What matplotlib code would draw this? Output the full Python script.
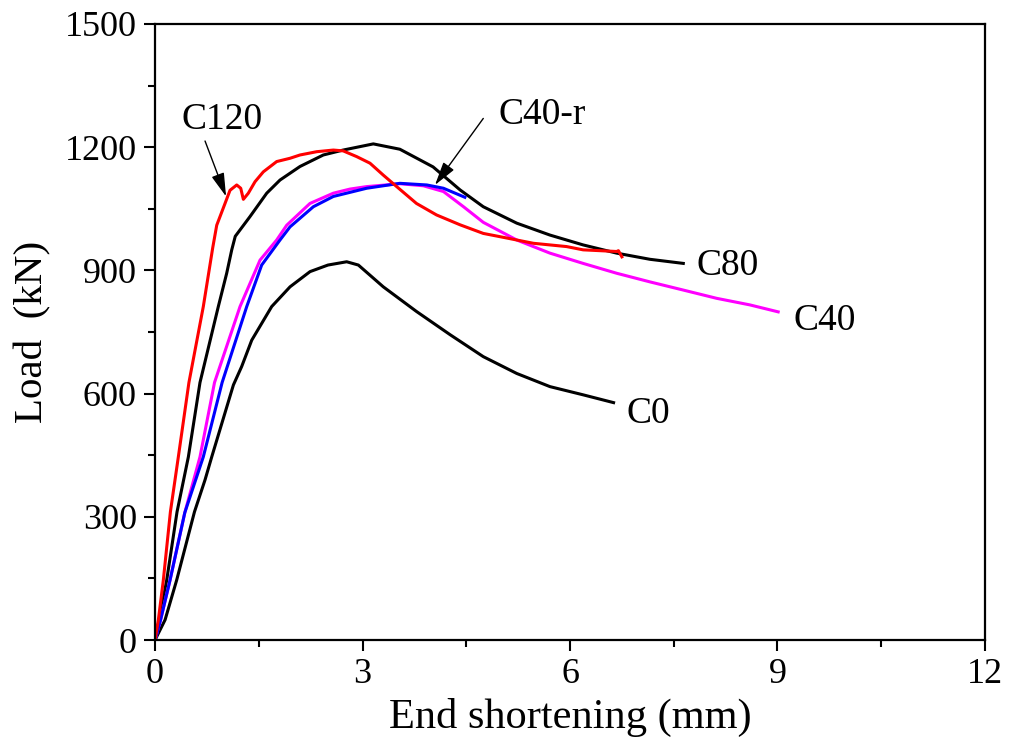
import matplotlib
matplotlib.use("Agg")
import matplotlib.pyplot as plt
from matplotlib.ticker import MultipleLocator

plt.rcParams['font.family'] = ['Liberation Serif', 'DejaVu Serif']

# ---- data (end shortening in mm, load in kN) ----
c0_x = [0, 0.145, 0.313, 0.57, 0.723, 0.82, 1.133, 1.253, 1.398, 1.687, 1.952, 2.241, 2.5, 2.771,
        2.94, 3.30, 3.78, 4.27, 4.746, 5.23, 5.71, 6.19, 6.63]
c0_y = [0, 49, 146, 312, 390, 446, 621, 666, 730, 812, 860, 897, 913, 921,
        913, 860, 800, 743, 690, 649, 617, 597, 578]

c80_x = [0, 0.06, 0.169, 0.318, 0.482, 0.65, 0.915, 1.036, 1.109, 1.16, 1.373, 1.615, 1.807, 2.096,
         2.433, 2.72, 3.156, 3.54, 4.02, 4.41, 4.746, 5.23, 5.71, 6.19, 6.675, 7.156, 7.638]
c80_y = [0, 49, 146, 312, 446, 627, 812, 893, 950, 983, 1031, 1088, 1120, 1153,
         1181, 1193, 1208, 1195, 1152, 1096, 1055, 1015, 986, 962, 942, 927, 917]

c120_x = [0, 0.048, 0.12, 0.222, 0.337, 0.49, 0.698, 0.834, 0.892, 1.012, 1.084, 1.181, 1.239, 1.277,
          1.349, 1.446, 1.566, 1.759, 1.952, 2.096, 2.338, 2.578, 2.72, 2.916, 3.108, 3.30, 3.494,
          3.78, 4.07, 4.41, 4.746, 4.99, 5.47, 5.95, 6.19, 6.675, 6.70, 6.75]
c120_y = [0, 49, 146, 312, 446, 627, 812, 955, 1010, 1063, 1095, 1108, 1100, 1073,
          1088, 1116, 1140, 1165, 1173, 1181, 1189, 1193, 1191, 1177, 1161, 1132, 1104,
          1063, 1035, 1011, 990, 982, 966, 958, 950, 946, 948, 933]

c40_x = [0, 0.08, 0.217, 0.43, 0.65, 0.86, 1.229, 1.518, 1.759, 1.904, 2.24, 2.578, 2.819, 3.06,
         3.54, 3.88, 4.17, 4.46, 4.746, 5.23, 5.71, 6.19, 6.675, 7.156, 7.64, 8.12, 8.60, 9.01]
c40_y = [0, 49, 146, 310, 446, 627, 812, 925, 974, 1010, 1063, 1088, 1098, 1104,
         1111, 1106, 1092, 1055, 1017, 974, 942, 917, 893, 872, 852, 832, 816, 799]

c40r_x = [0, 0.08, 0.217, 0.43, 0.698, 0.97, 1.326, 1.542, 1.807, 1.952, 2.289, 2.578, 2.819, 3.06,
          3.54, 3.93, 4.17, 4.48]
c40r_y = [0, 49, 146, 310, 446, 627, 812, 913, 974, 1006, 1055, 1080, 1090, 1100,
          1112, 1108, 1100, 1078]

x_ticks = [0, 3, 6, 9, 12]
y_ticks = [0, 300, 600, 900, 1200, 1500]

fig = plt.figure(figsize=(10.12, 7.49), dpi=100)
ax = fig.add_axes([0.1532, 0.1455, 0.8201, 0.8225])

lw = 2.2
ax.plot(c0_x, c0_y, color='black', lw=lw, solid_joinstyle='round')
ax.plot(c80_x, c80_y, color='black', lw=lw, solid_joinstyle='round')
ax.plot(c40_x, c40_y, color='#ff00ff', lw=lw, solid_joinstyle='round')
ax.plot(c40r_x, c40r_y, color='#0000ff', lw=lw, solid_joinstyle='round')
ax.plot(c120_x, c120_y, color='#ff0000', lw=lw, solid_joinstyle='round')

ax.set_xlim(0, 12)
ax.set_ylim(0, 1500)
ax.set_xticks(x_ticks)
ax.set_yticks(y_ticks)
ax.xaxis.set_minor_locator(MultipleLocator(1.5))
ax.yaxis.set_minor_locator(MultipleLocator(150))
ax.tick_params(which='major', direction='out', length=8, width=1.5, labelsize=26,
               top=False, right=False, pad=5)
ax.tick_params(which='minor', direction='out', length=5, width=1.5, top=False, right=False)
for s in ax.spines.values():
    s.set_linewidth(1.6)

ax.set_xlabel('End shortening (mm)', fontsize=30.5, labelpad=5)
ax.set_ylabel('Load  (kN)', fontsize=29.5, labelpad=10)

fs = 27
ax.text(0.969, 1266, 'C120', fontsize=fs, ha='center', va='center')
ax.text(5.60, 1278, 'C40-r', fontsize=fs, ha='center', va='center')
ax.text(8.284, 911, 'C80', fontsize=fs, ha='center', va='center')
ax.text(9.686, 777, 'C40', fontsize=fs, ha='center', va='center')
ax.text(7.127, 550, 'C0', fontsize=fs, ha='center', va='center')

astyle = '-|>,head_length=0.9,head_width=0.25'
ax.annotate('', xy=(1.027, 1080), xytext=(0.723, 1215),
            arrowprops=dict(arrowstyle=astyle, color='black', lw=1.0, mutation_scale=16,
                            shrinkA=0, shrinkB=0))
ax.annotate('', xy=(4.048, 1108), xytext=(4.746, 1270),
            arrowprops=dict(arrowstyle=astyle, color='black', lw=1.0, mutation_scale=16,
                            shrinkA=0, shrinkB=0))

fig.savefig('out.png', dpi=100)
